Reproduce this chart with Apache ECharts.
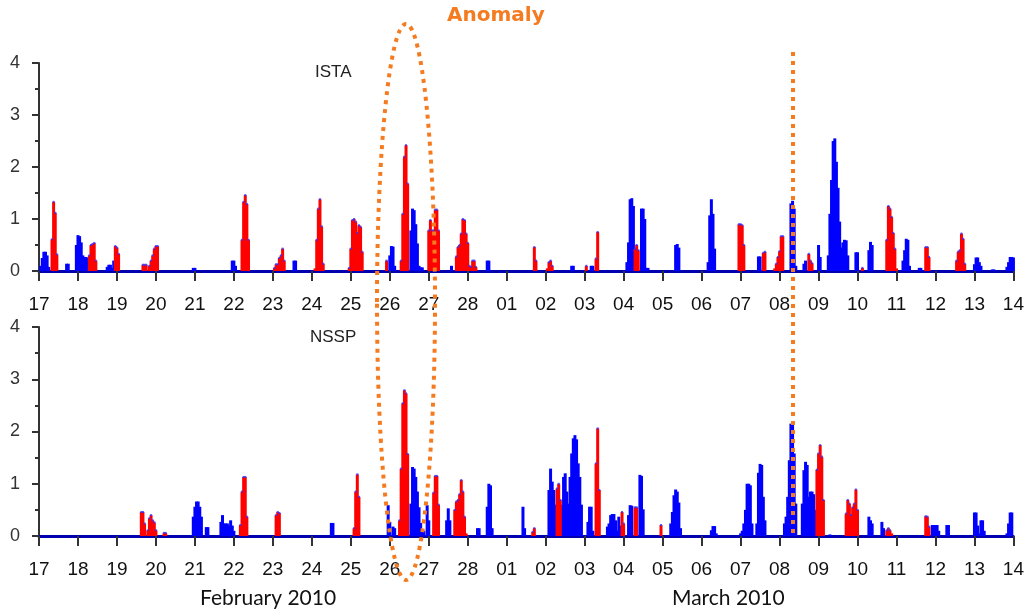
<!DOCTYPE html>
<html>
<head>
<meta charset="utf-8">
<script src="https://cdn.jsdelivr.net/npm/echarts@6/dist/echarts.min.js"></script>
<style>
  html, body { margin: 0; padding: 0; background: #fff; }
  #main { width: 1027px; height: 614px; }
</style>
</head>
<body>
<div id="main"></div>
<script>
// day tick labels, one per 24 hours starting 17 Feb 2010
const dayLabels = ['17', '18', '19', '20', '21', '22', '23', '24', '25', '26', '27', '28',
  '01', '02', '03', '04', '05', '06', '07', '08', '09', '10', '11', '12', '13', '14']

// [start hour, hourly values...]  (hour 0 = 17 Feb 00:00)
const istaBlue = [
  [1, [0.1, 0.25, 0.37, 0.37, 0.3, 0.08]],
  [17, [0.14, 0.14]],
  [23, [0.5, 0.69, 0.67, 0.55, 0.3, 0.27, 0.27, 0.25]],
  [42, [0.08, 0.12, 0.12, 0.06]],
  [46, [0.2]],
  [95, [0.06, 0.06]],
  [119, [0.2, 0.2, 0.1]],
  [157, [0.2, 0.2]],
  [216, [0.3, 0.48, 0.47, 0.1]],
  [229, [0.78, 1.2, 1.17, 0.9, 0.53, 0.1, 0.07, 0.07]],
  [254, [0.1]],
  [276, [0.2, 0.2]],
  [328, [0.1, 0.1]],
  [340, [0.1, 0.1]],
  [362, [0.17, 0.55, 1.38, 1.4, 1.25, 0.1]],
  [371, [1.2, 1.2, 1.0, 0.06, 0.06]],
  [392, [0.5, 0.52, 0.45]],
  [412, [0.17, 1.07, 1.38, 1.1, 0.43]],
  [443, [0.28, 0.28]],
  [463, [1.3, 1.35, 1.2, 0.1]],
  [471, [0.14, 0.2]],
  [480, [0.5, 0.27]],
  [486, [0.3, 1.1, 1.75, 2.5, 2.55, 2.1, 1.6, 0.95, 0.45, 0.55, 0.6, 0.59, 0.3]],
  [503, [0.36, 0.36]],
  [511, [0.4, 0.56, 0.5]],
  [532, [0.2, 0.4, 0.62, 0.6, 0.1]],
  [542, [0.06, 0.06]],
  [576, [0.13, 0.26, 0.26, 0.17, 0.1]],
  [587, [0.03, 0.03]],
  [596, [0.08, 0.17, 0.27, 0.27, 0.26]]
]
const istaRed = [
  [8, [0.61, 1.33, 1.12, 0.32]],
  [31, [0.3, 0.5, 0.52, 0.54, 0.2]],
  [47, [0.48, 0.45, 0.33]],
  [64, [0.12, 0.12, 0.12]],
  [68, [0.1, 0.2, 0.3, 0.43, 0.48, 0.48]],
  [125, [0.6, 1.33, 1.46, 1.29, 0.6]],
  [145, [0.06, 0.13, 0.13, 0.25, 0.3, 0.43, 0.2]],
  [170, [0.05, 0.6, 1.2, 1.38, 0.86, 0.14]],
  [191, [0.06, 0.43, 0.98, 1.0, 0.95, 0.73, 0.88, 0.85, 0.37]],
  [214, [0.2]],
  [223, [0.2, 1.1, 2.2, 2.42, 1.68]],
  [240, [0.78, 0.98, 0.78, 0.78, 1.18, 1.18, 0.78]],
  [257, [0.28, 0.46, 0.5, 0.72, 1.0, 0.98, 0.72, 0.54, 0.1, 0.08, 0.2, 0.2, 0.08]],
  [305, [0.46, 0.2]],
  [313, [0.05, 0.17, 0.2, 0.1]],
  [337, [0.1]],
  [343, [0.24, 0.75]],
  [367, [0.43, 0.5, 0.4]],
  [431, [0.9, 0.9, 0.88, 0.5]],
  [446, [0.35, 0.37]],
  [453, [0.05, 0.14, 0.27, 0.38, 0.67, 0.67]],
  [474, [0.33, 0.2, 0.15]],
  [507, [0.06]],
  [522, [0.6, 1.25, 1.2, 1.04, 0.73, 0.43, 0.05]],
  [546, [0.46, 0.46, 0.27]],
  [565, [0.2, 0.37, 0.4, 0.72, 0.62, 0.14]]
]
const nsspBlue = [
  [95, [0.37, 0.56, 0.66, 0.66, 0.56, 0.37]],
  [103, [0.17, 0.17]],
  [112, [0.27, 0.4, 0.24, 0.24, 0.24, 0.2, 0.3, 0.2, 0.1]],
  [180, [0.25, 0.25]],
  [215, [0.59, 0.27, 0, 0.18, 0.15]],
  [229, [0.62, 1.32, 1.29, 1.13, 0.85, 0.55, 0.25, 0.1, 0.1]],
  [239, [0.59, 0.3]],
  [251, [0.3, 0.53, 0.3]],
  [270, [0.15, 0.15]],
  [276, [0.56, 1.0, 0.97, 0.15]],
  [298, [0.56, 0.15]],
  [314, [0.88, 1.29, 1.04, 0.88, 0.6]],
  [322, [0.6, 1.13, 1.2, 0.85, 0.62, 1.13, 1.58, 1.87, 1.93, 1.85, 1.39, 1.13, 0.6]],
  [338, [0.27, 0.56, 0.56, 0.1]],
  [350, [0.18, 0.24, 0.4, 0.42, 0.42, 0.3, 0.1, 0.37, 0.2]],
  [363, [0.4, 0.59, 0.58]],
  [370, [1.17, 1.15, 0.51]],
  [389, [0.24, 0.46, 0.78, 0.89, 0.85, 0.64, 0.15]],
  [414, [0.11, 0.19, 0.19, 0.05]],
  [432, [0.05, 0.1, 0.24, 0.5, 1.0, 1.0, 0.97, 0.24]],
  [442, [0.24, 1.21, 1.38, 1.36, 0.75, 0.3]],
  [459, [0.24, 0.37, 0.75, 1.45, 2.15, 2.18, 1.58, 0.62]],
  [470, [0.62, 1.26, 1.42, 1.36, 0.75, 0.85, 0.85, 0.8, 0.5, 0.1]],
  [487, [0.03]],
  [511, [0.37, 0.3, 0.24]],
  [519, [0.27, 0.15]],
  [550, [0.21, 0.21, 0.21, 0.21, 0.1]],
  [559, [0.21, 0.21]],
  [576, [0.45, 0.45, 0.2, 0.05, 0.3, 0.3, 0.1]],
  [596, [0.05, 0.24, 0.45, 0.45]]
]
const nsspRed = [
  [63, [0.46, 0.46, 0.24]],
  [67, [0.11, 0.34, 0.4, 0.3, 0.26, 0.11]],
  [77, [0.06, 0.06]],
  [124, [0.21, 0.85, 1.13, 1.13, 0.37]],
  [146, [0.4, 0.46, 0.44]],
  [194, [0.15, 0.85, 1.18, 0.75]],
  [222, [0.3, 1.29, 2.54, 2.79, 2.73, 1.57]],
  [243, [0.83, 1.15, 1.15, 0.6]],
  [256, [0.5, 0.66, 0.69, 0.8, 1.07, 0.85, 0.37, 0.05]],
  [304, [0.08, 0.15]],
  [319, [0.91, 1.0, 0.69]],
  [343, [1.39, 2.06, 0.88]],
  [359, [0.46, 0.24]],
  [367, [0.55, 0.55]],
  [383, [0.21]],
  [479, [1.27, 1.58, 1.74, 1.52, 0.69]],
  [497, [0.43, 0.69, 0.62, 0.4, 0.55, 0.62, 0.89, 0.5]],
  [522, [0.11, 0.15, 0.11, 0.05]],
  [546, [0.38, 0.37, 0.18]]
]

function toPoints (clusters) {
  const out = []
  clusters.forEach(function (c) {
    c[1].forEach(function (v, i) { out.push([c[0] + i, v]) })
  })
  return out
}

const orange = '#f47b20'

function xAxisCfg (gridIndex) {
  return {
    type: 'value',
    gridIndex: gridIndex,
    min: 0,
    max: 600,
    interval: 24,
    axisLine: { lineStyle: { color: '#0000b0', width: 3 } },
    axisTick: { length: 10, lineStyle: { color: '#333', width: 2 } },
    axisLabel: {
      margin: 24,
      fontSize: 19,
      fontFamily: "'Liberation Sans Narrow', 'Liberation Sans', sans-serif",
      color: '#111',
      showMaxLabel: true,
      formatter: function (v) { return dayLabels[Math.round(v / 24)] }
    },
    splitLine: { show: false }
  }
}
function yAxisCfg (gridIndex) {
  return {
    type: 'value',
    gridIndex: gridIndex,
    min: 0,
    max: 4,
    interval: 1,
    axisLine: { show: true, lineStyle: { color: '#333', width: 2 } },
    axisTick: { show: true, length: 7, lineStyle: { color: '#333', width: 2 } },
    minorTick: { show: true, splitNumber: 2, length: 4, lineStyle: { color: '#333', width: 2 } },
    axisLabel: { margin: 19, fontSize: 18, color: '#333', fontFamily: 'Liberation Sans' },
    splitLine: { show: false }
  }
}
function barSeries (name, clusters, color, idx) {
  return {
    name: name,
    type: 'bar',
    xAxisIndex: idx,
    yAxisIndex: idx,
    barWidth: 3,
    barGap: '-100%',
    data: toPoints(clusters),
    itemStyle: { color: color },
    silent: true
  }
}
// small blue point marks sitting on the red bars, as in the source plot
function dotSeries (clusters, idx) {
  return {
    type: 'scatter',
    xAxisIndex: idx,
    yAxisIndex: idx,
    symbol: 'rect',
    symbolSize: 2,
    data: toPoints(clusters).filter(function (p) { return p[1] > 0.05 }),
    itemStyle: { color: '#3030ff' },
    silent: true,
    z: 3
  }
}

const chart = echarts.init(document.getElementById('main'))
chart.setOption({
  animation: false,
  grid: [
    { left: 39, right: 11, top: 63, height: 208 },
    { left: 39, right: 11, top: 327, height: 209 }
  ],
  xAxis: [xAxisCfg(0), xAxisCfg(1)],
  yAxis: [yAxisCfg(0), yAxisCfg(1)],
  series: [
    barSeries('ISTA blue', istaBlue, '#0000ff', 0),
    barSeries('ISTA red', istaRed, '#ff0000', 0),
    barSeries('NSSP blue', nsspBlue, '#0000ff', 1),
    barSeries('NSSP red', nsspRed, '#ff0000', 1),
    dotSeries(istaRed, 0),
    dotSeries(nsspRed, 1)
  ],
  graphic: [
    { type: 'text', left: 315, top: 64, style: { text: 'ISTA', fontSize: 17, fontFamily: 'Liberation Sans', fill: '#222' } },
    { type: 'text', left: 310, top: 329, style: { text: 'NSSP', fontSize: 17, fontFamily: 'Liberation Sans', fill: '#222' } },
    { type: 'text', left: 447, top: 6, style: { text: 'Anomaly', fontSize: 20, fontWeight: 'bold', fontFamily: 'DejaVu Sans', fill: orange } },
    { type: 'text', left: 200, top: 588, style: { text: 'February 2010', fontSize: 21, fontFamily: 'Lato', fill: '#111' } },
    { type: 'text', left: 672, top: 588, style: { text: 'March 2010', fontSize: 21, fontFamily: 'Lato', fill: '#111' } },
    {
      type: 'ellipse', z: 100,
      shape: { cx: 406, cy: 302, rx: 29, ry: 278 },
      style: { fill: 'none', stroke: orange, lineWidth: 4, lineDash: [4, 5] }
    },
    {
      type: 'line', z: 100,
      shape: { x1: 793, y1: 52, x2: 793, y2: 538 },
      style: { stroke: orange, lineWidth: 4, lineDash: [4, 5] }
    }
  ]
})
</script>
</body>
</html>
